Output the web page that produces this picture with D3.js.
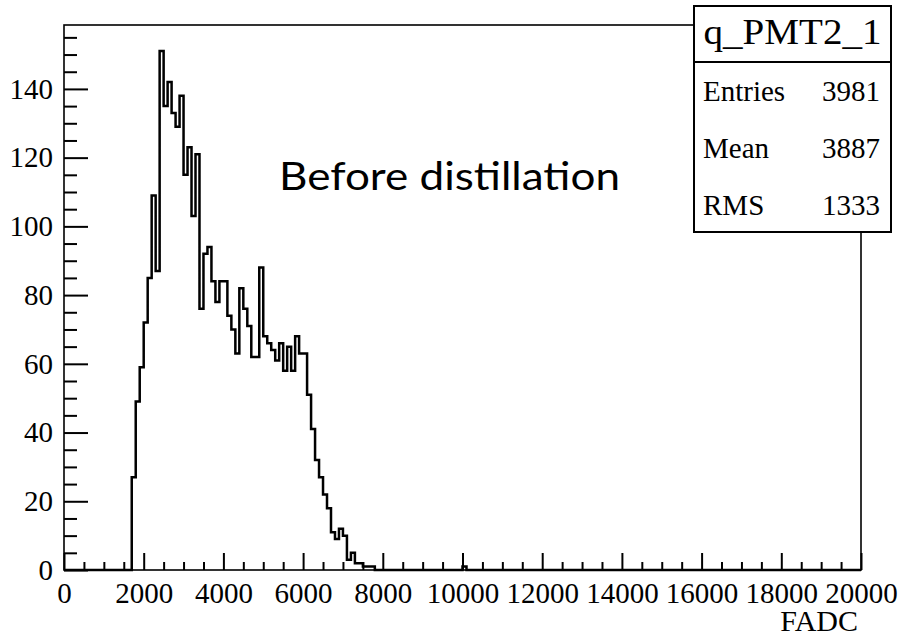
<!DOCTYPE html>
<html>
<head>
<meta charset="utf-8">
<script src="https://cdn.jsdelivr.net/npm/d3@7"></script>
<style>
  html, body { margin: 0; padding: 0; background: #fff; }
  svg { display: block; }
</style>
</head>
<body>
<svg id="chart" width="902" height="637"></svg>
<script>
// ---- Data (bin width 100 FADC) ----
const histTitle = "q_PMT2_1";
const xTitle = "FADC";
const annotation = "Before distillation";
const binWidth = 100;
const firstBinLow = 1700;
const binCounts = [27, 49, 59, 72, 85, 109, 87, 151, 135, 142,
                   133, 129, 138, 115, 123, 103, 121, 76, 92, 94,
                   84, 78, 84, 84, 74, 70, 63, 82, 76, 71,
                   62, 62, 88, 68, 66, 64, 61, 66, 58, 65,
                   58, 68, 63, 63, 51, 41, 32, 27, 22, 18,
                   11, 9, 12, 10, 3, 5, 2, 2, 1, 1, 1];
const extraBinLows = [10000];
const extraBinCounts = [1];
const statLabels = ["Entries", "Mean", "RMS"];
const statValues = ["3981", "3887", "1333"];
const xTicks = [0, 2000, 4000, 6000, 8000, 10000, 12000, 14000, 16000, 18000, 20000];
const yTicks = [0, 20, 40, 60, 80, 100, 120, 140];
const xRange = [0, 20000];
const yMax = 158.6;

// ---- Build full histogram ----
const nBins = (xRange[1] - xRange[0]) / binWidth;
const bins = d3.range(nBins).map(i => ({ low: xRange[0] + i * binWidth, count: 0 }));
binCounts.forEach((c, i) => { bins[(firstBinLow - xRange[0]) / binWidth + i].count = c; });
extraBinLows.forEach((lo, i) => { bins[(lo - xRange[0]) / binWidth].count = extraBinCounts[i]; });

const svg = d3.select("#chart");
const L = 64, R = 861, T = 25, B = 570;
const x = d3.scaleLinear().domain(xRange).range([L, R]);
const y = d3.scaleLinear().domain([0, yMax]).range([B, T]);
const serif = "'Liberation Serif', 'Times New Roman', serif";
const fmt = d3.format("d");

// histogram outline
const pts = bins.map(b => [b.low, b.count]);
pts.push([xRange[1], bins[bins.length - 1].count]);
const line = d3.line().x(d => x(d[0])).y(d => y(d[1])).curve(d3.curveStepAfter);
svg.append("path").attr("d", line(pts))
  .attr("fill", "none").attr("stroke", "#000").attr("stroke-width", 2.5)
  .attr("stroke-linejoin", "miter");

// frame
svg.append("rect").attr("x", L).attr("y", T).attr("width", R - L).attr("height", B - T)
  .attr("fill", "none").attr("stroke", "#000").attr("stroke-width", 1.6);

// y axis major
svg.append("g").attr("transform", `translate(${L},0)`)
  .call(d3.axisLeft(y).tickValues(yTicks).tickFormat(fmt).tickSizeInner(-24).tickSizeOuter(0).tickPadding(11));
// y minor
const yMinor = d3.range(0, yMax, 5).filter(v => v % 20 !== 0);
svg.append("g").attr("transform", `translate(${L},0)`)
  .call(d3.axisLeft(y).tickValues(yMinor).tickSizeInner(-13).tickSizeOuter(0).tickFormat(""));

// x axis major
svg.append("g").attr("transform", `translate(0,${B})`)
  .call(d3.axisBottom(x).tickValues(xTicks).tickFormat(fmt).tickSizeInner(-17).tickSizeOuter(0).tickPadding(12));
// x minor
const xMinor = d3.range(0, xRange[1], 500).filter(v => v % 2000 !== 0);
svg.append("g").attr("transform", `translate(0,${B})`)
  .call(d3.axisBottom(x).tickValues(xMinor).tickSizeInner(-8).tickSizeOuter(0).tickFormat(""));

svg.selectAll(".domain").remove();
svg.selectAll(".tick line").attr("stroke", "#000").attr("stroke-width", 2);
svg.selectAll("g").attr("font-family", serif).attr("font-size", 29);
svg.selectAll(".tick text")
  .style("font-family", serif).style("font-size", "29px").attr("fill", "#000");

// x title
svg.append("text").attr("x", 858).attr("y", 631).attr("text-anchor", "end")
  .style("font-family", serif).style("font-size", "30px").text(xTitle);

// annotation
svg.append("text").attr("x", 279).attr("y", 190)
  .style("font-family", "Lato, 'Open Sans', sans-serif").style("font-size", "39px")
  .attr("textLength", 341).attr("lengthAdjust", "spacingAndGlyphs")
  .text(annotation);

// stats box
const bx = 694, by = 6, bw = 197, bh = 226, titleH = 56;
svg.append("rect").attr("x", bx).attr("y", by).attr("width", bw).attr("height", bh)
  .attr("fill", "#fff").attr("stroke", "#000").attr("stroke-width", 2);
svg.append("line").attr("x1", bx).attr("x2", bx + bw).attr("y1", by + titleH).attr("y2", by + titleH)
  .attr("stroke", "#000").attr("stroke-width", 2);
svg.append("text").attr("x", bx + bw / 2).attr("y", 44).attr("text-anchor", "middle")
  .style("font-family", serif).style("font-size", "35px")
  .attr("textLength", 178).attr("lengthAdjust", "spacingAndGlyphs")
  .text(histTitle);
const rowH = (bh - titleH) / statLabels.length;
statLabels.forEach((lab, i) => {
  const yy = by + titleH + rowH * (i + 0.5) + 11;
  svg.append("text").attr("x", 703).attr("y", yy)
    .style("font-family", serif).style("font-size", "29px").text(lab);
  svg.append("text").attr("x", 880).attr("y", yy).attr("text-anchor", "end")
    .style("font-family", serif).style("font-size", "29px").text(statValues[i]);
});
</script>
</body>
</html>
